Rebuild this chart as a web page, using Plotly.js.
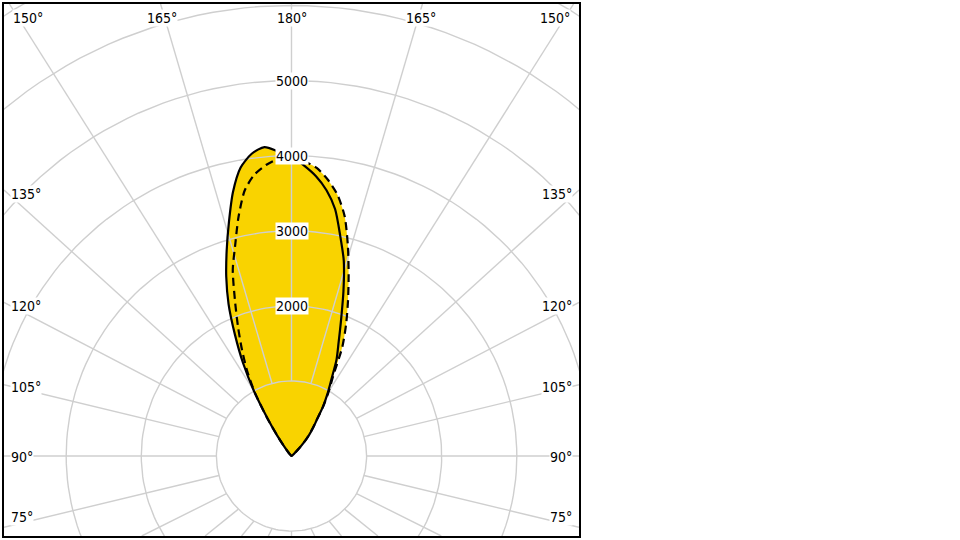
<!DOCTYPE html>
<html><head><meta charset="utf-8">
<script src="https://cdn.plot.ly/plotly-3.0.1.min.js"></script>
<style>html,body{margin:0;padding:0;background:#fff;}#chart{width:960px;height:540px;}</style>
</head><body><div id="chart"></div>
<script>
// ---- data (luminous intensity, cd, vs. vertical angle gamma) ----
const GAMMA  = [130,132.5,135,137.5,140,142.5,145,147.5,150,152.5,155,157.5,160,162.5,165,167.5,170,172.5,175,177.5,180];
const I_C180 = [0,0,10,30,70,150,335,600,1000,1400,1780,2190,2540,2870,3220,3600,3900,4060,4130,4060,3990];
const I_C0   = [0,60,140,245,360,470,585,780,960,1150,1420,1640,1930,2300,2690,3000,3340,3570,3740,3870,3990];
const I_C270 = [0,0,10,30,70,150,320,620,980,1280,1560,1860,2200,2600,2900,3260,3590,3780,3890,3960,3960];
const I_C90  = [0,60,140,240,350,460,580,790,990,1200,1600,1900,2200,2530,2900,3270,3530,3710,3850,3925,3960];
const RADIAL_TICKS = [2000,3000,4000,5000];
const GRID_RADII = [1000,2000,3000,4000,5000,6000,7000];
const SPOKE_ANGLES = [0,15,30,45,60,75,90,105,120,135,150,165,180,195,210,225,240,255,270,285,300,315,330,345];
const TOP_LABELS  = ['150°','165°','180°','165°','150°'];
const SIDE_LABELS = ['135°','120°','105°','90°','75°'];

// ---- layout constants ----
const YELLOW = '#F9D300', GRID = '#cfcfcf';
const FONT = {family:'DejaVu Sans Condensed, Noto Sans, sans-serif', size:14, color:'#000'};
const XR = [-3828, 3828], YR = [-1065, 6019];
const TOP_X = [-3502,-1724,0,1724,3502], TOP_Y = 5839;
const SIDE_Y = [3489,1997,925,-7,-812], SIDE_X = 3745;
const K = (XR[1]-XR[0])/(YR[1]-YR[0]);   // frame aspect: spokes aim at a square frame stretched to the box

function pt(g, I, side){ const a = g*Math.PI/180; return [side*I*Math.sin(a), -I*Math.cos(a)]; }
function curve(left, right){
  const xs=[], ys=[];
  const push=(p)=>{ const n=xs.length; if(n && Math.abs(xs[n-1]-p[0])<1e-6 && Math.abs(ys[n-1]-p[1])<1e-6) return; xs.push(p[0]); ys.push(p[1]); };
  for(let i=0;i<GAMMA.length;i++) push(pt(GAMMA[i], left[i], -1));
  for(let i=GAMMA.length-2;i>=0;i--) push(pt(GAMMA[i], right[i], 1));
  return {x:xs, y:ys};
}
const solid = curve(I_C180, I_C0);
const dashed = curve(I_C270, I_C90);

// grid (circles + spokes)
const gx=[], gy=[];
GRID_RADII.forEach(r=>{ for(let d=0; d<=360; d+=2){ const p=pt(d,r,1); gx.push(p[0]); gy.push(p[1]); } gx.push(null); gy.push(null); });
SPOKE_ANGLES.forEach(d=>{
  const a=d*Math.PI/180, dx=K*Math.sin(a), dy=-Math.cos(a);
  const ts=[];
  if(dx>1e-9) ts.push(XR[1]/dx); if(dx<-1e-9) ts.push(XR[0]/dx);
  if(dy>1e-9) ts.push(YR[1]/dy); if(dy<-1e-9) ts.push(YR[0]/dy);
  const t=Math.min.apply(null, ts);
  const p1=pt(d,GRID_RADII[0],1);
  gx.push(p1[0], dx*t, null); gy.push(p1[1], dy*t, null);
});

const traces = [
  {x:solid.x, y:solid.y, mode:'lines', fill:'toself', fillcolor:YELLOW, line:{width:0, shape:'spline', smoothing:0.7}, hoverinfo:'skip', showlegend:false},
  {x:dashed.x, y:dashed.y, mode:'lines', fill:'toself', fillcolor:YELLOW, line:{width:0, shape:'spline', smoothing:0.7}, hoverinfo:'skip', showlegend:false},
  {x:gx, y:gy, mode:'lines', line:{color:GRID, width:1.4}, hoverinfo:'skip', showlegend:false},
  {x:dashed.x, y:dashed.y, mode:'lines', line:{color:'#000', width:2.2, dash:'8px,5px', shape:'spline', smoothing:0.7}, hoverinfo:'skip', showlegend:false},
  {x:solid.x, y:solid.y, mode:'lines', line:{color:'#000', width:2.2, shape:'spline', smoothing:0.7}, hoverinfo:'skip', showlegend:false}
];

const ann = [];
RADIAL_TICKS.forEach(r=>ann.push({x:0, y:r, text:String(r), showarrow:false, bgcolor:'#fff', borderpad:0, font:FONT}));
TOP_LABELS.forEach((t,i)=>ann.push({x:TOP_X[i], y:TOP_Y, text:t, showarrow:false, bgcolor:'#fff', borderpad:0, font:FONT}));
SIDE_LABELS.forEach((t,i)=>{
  ann.push({x:-SIDE_X, y:SIDE_Y[i], text:t, xanchor:'left', showarrow:false, bgcolor:'#fff', borderpad:0, font:FONT});
  ann.push({x:SIDE_X, y:SIDE_Y[i], text:t, xanchor:'right', showarrow:false, bgcolor:'#fff', borderpad:0, font:FONT});
});

const axis = {showgrid:false, zeroline:false, showticklabels:false, ticks:'', showline:true, mirror:true, linecolor:'#000', linewidth:2, fixedrange:true};
const layout = {
  width:960, height:540, margin:{l:4, r:381, t:4, b:4},
  paper_bgcolor:'#fff', plot_bgcolor:'#fff', showlegend:false,
  xaxis:Object.assign({range:XR}, axis),
  yaxis:Object.assign({range:YR}, axis),
  annotations:ann, font:FONT
};
Plotly.newPlot('chart', traces, layout, {displayModeBar:false, staticPlot:true});
</script></body></html>
